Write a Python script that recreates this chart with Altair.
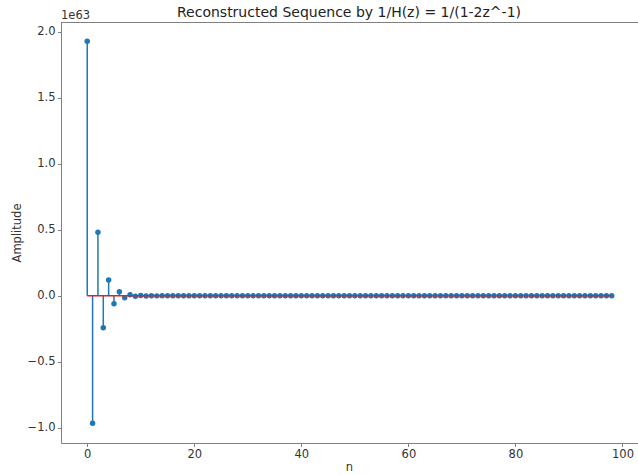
import altair as alt
import pandas as pd

# Sequence values (units of 1e63)
n_values = list(range(99))
head_values = [1.93, -0.965, 0.4825, -0.2413, 0.1206, -0.0603, 0.0302, -0.0151,
               0.0075, -0.0038, 0.0019, -0.0009, 0.0005, -0.0002]
tail_values = [0.0] * (99 - len(head_values))
amplitudes = head_values + tail_values

x_ticks = [0, 20, 40, 60, 80, 100]
y_ticks = [-1.0, -0.5, 0.0, 0.5, 1.0, 1.5, 2.0]
title_text = "Reconstructed Sequence by 1/H(z) = 1/(1-2z^-1)"

x_domain = [-4.9, 102.9]
y_domain = [-1.115, 2.075]

df = pd.DataFrame({"n": n_values, "amp": amplitudes, "zero": [0.0] * 99})
base_df = pd.DataFrame({"n": [n_values[0]], "n2": [n_values[-1]], "zero": [0.0]})

W, H = 577, 421
BLUE = "#1f77b4"
RED = "#d62728"
AX = "#808080"
FONT = "DejaVu Sans"
FS = 11.5

xs = alt.Scale(domain=x_domain, nice=False, zero=False)
ys = alt.Scale(domain=y_domain, nice=False, zero=False)

x_axis = alt.Axis(values=x_ticks, format="d", grid=False, title="n",
                  domainColor=AX, tickColor=AX, tickSize=3.5, labelPadding=2,
                  labelFontSize=FS, labelColor="#333", labelFont=FONT,
                  titleFontSize=FS, titleFont=FONT, titleColor="#333",
                  titleFontWeight="normal", titleX=288, titleY=24,
                  titleBaseline="middle", titleAlign="center")
y_axis = alt.Axis(values=y_ticks, grid=False, title="Amplitude",
                  labelExpr="replace(format(datum.value, '.1f'), '-', '\u2212')",
                  domainColor=AX, tickColor=AX, tickSize=3.5, labelPadding=2.5,
                  labelFontSize=FS, labelColor="#333", labelFont=FONT,
                  titleFontSize=FS, titleFont=FONT, titleColor="#333",
                  titleFontWeight="normal", titleX=-44, titleY=H / 2,
                  titleAngle=-90, titleBaseline="middle", titleAlign="center")

stems = alt.Chart(df).mark_rule(color=BLUE, strokeWidth=1.5).encode(
    x=alt.X("n:Q", scale=xs, axis=x_axis),
    y=alt.Y("zero:Q", scale=ys, axis=y_axis),
    y2="amp:Q",
)
points = alt.Chart(df).mark_circle(color=BLUE, size=30, opacity=1).encode(
    x=alt.X("n:Q", scale=xs),
    y=alt.Y("amp:Q", scale=ys),
)
baseline = alt.Chart(base_df).mark_rule(color=RED, strokeWidth=1.5).encode(
    x=alt.X("n:Q", scale=xs),
    x2="n2:Q",
    y=alt.Y("zero:Q", scale=ys),
)
top_spine = alt.Chart(base_df).mark_rect(color=AX, opacity=1).encode(
    x=alt.value(0), x2=alt.value(W), y=alt.value(0), y2=alt.value(1)
)
offset_text = alt.Chart(base_df).mark_text(
    text="1e63", align="left", baseline="alphabetic", fontSize=FS,
    font=FONT, color="#333"
).encode(x=alt.value(0), y=alt.value(-3))
title_mark = alt.Chart(base_df).mark_text(
    text=title_text, align="center", baseline="alphabetic", fontSize=14,
    font=FONT, color="#222"
).encode(x=alt.value(288), y=alt.value(-5))

chart = alt.layer(stems, points, baseline, top_spine, offset_text, title_mark).properties(
    width=W, height=H,
    autosize=alt.AutoSizeParams(type="none"),
    padding={"left": 61, "top": 22, "right": 0, "bottom": 32},
).configure_view(stroke=AX, strokeWidth=1).configure(background="white")

chart.save("out.html", embed_options={"renderer": "svg", "actions": False})
